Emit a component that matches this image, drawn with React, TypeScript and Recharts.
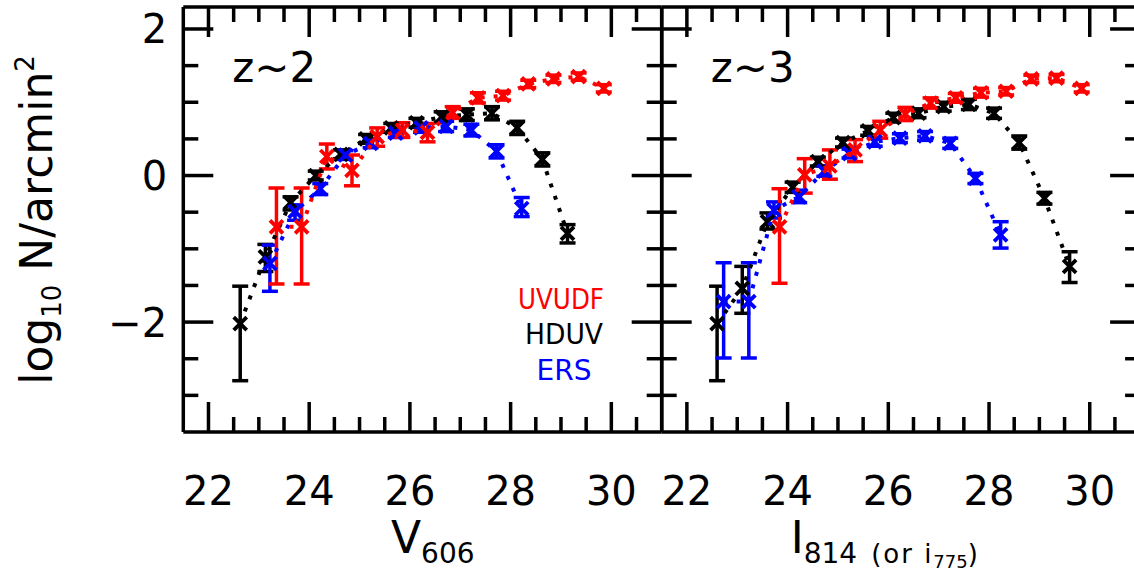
import React from 'react'
import { ComposedChart, Scatter, XAxis, YAxis, ErrorBar } from 'recharts'

// z~2 panel, V606 magnitudes
const z2HduvMag = [22.63, 23.13, 23.63, 24.13, 24.63, 25.13, 25.63, 26.13, 26.63, 27.13, 27.63, 28.13, 28.63, 29.13]
const z2HduvLogN = [-2.02, -1.11, -0.37, 0.0, 0.29, 0.5, 0.65, 0.72, 0.8, 0.83, 0.85, 0.65, 0.22, -0.79]
const z2HduvErrLo = [0.78, 0.2, 0.1, 0.06, 0.06, 0.06, 0.06, 0.06, 0.07, 0.08, 0.09, 0.09, 0.09, 0.13]
const z2HduvErrHi = [0.51, 0.17, 0.08, 0.06, 0.06, 0.06, 0.06, 0.06, 0.07, 0.08, 0.09, 0.09, 0.09, 0.12]

const z2ErsMag = [23.22, 23.72, 24.22, 24.72, 25.22, 25.72, 26.22, 26.72, 27.22, 27.72, 28.22]
const z2ErsLogN = [-1.2, -0.49, -0.18, 0.28, 0.44, 0.58, 0.65, 0.67, 0.62, 0.33, -0.45]
const z2ErsErrLo = [0.38, 0.12, 0.08, 0.06, 0.06, 0.06, 0.06, 0.07, 0.08, 0.09, 0.11]
const z2ErsErrHi = [0.25, 0.09, 0.07, 0.06, 0.06, 0.06, 0.06, 0.07, 0.08, 0.09, 0.15]

const z2UvudfMag = [23.35, 23.85, 24.35, 24.85, 25.35, 25.85, 26.35, 26.85, 27.35, 27.85, 28.35, 28.85, 29.35, 29.85]
const z2UvudfLogN = [-0.7, -0.7, 0.26, 0.07, 0.53, 0.62, 0.59, 0.86, 1.06, 1.09, 1.25, 1.32, 1.35, 1.19]
const z2UvudfErrLo = [0.78, 0.78, 0.17, 0.21, 0.13, 0.1, 0.13, 0.08, 0.07, 0.06, 0.05, 0.05, 0.05, 0.05]
const z2UvudfErrHi = [0.53, 0.53, 0.17, 0.21, 0.12, 0.1, 0.12, 0.08, 0.07, 0.06, 0.05, 0.05, 0.05, 0.05]

// z~3 panel, I814 magnitudes
const z3HduvMag = [22.6, 23.1, 23.6, 24.1, 24.6, 25.1, 25.6, 26.1, 26.6, 27.1, 27.6, 28.1, 28.6, 29.1, 29.6]
const z3HduvLogN = [-2.02, -1.54, -0.63, -0.16, 0.19, 0.45, 0.61, 0.79, 0.85, 0.94, 0.97, 0.85, 0.45, -0.31, -1.24]
const z3HduvErrLo = [0.78, 0.34, 0.1, 0.07, 0.06, 0.06, 0.06, 0.06, 0.06, 0.06, 0.07, 0.07, 0.09, 0.08, 0.22]
const z3HduvErrHi = [0.51, 0.3, 0.12, 0.07, 0.06, 0.06, 0.06, 0.06, 0.06, 0.06, 0.07, 0.07, 0.09, 0.08, 0.2]

const z3ErsMag = [22.73, 23.23, 23.73, 24.23, 24.73, 25.23, 25.73, 26.23, 26.73, 27.23, 27.73, 28.23]
const z3ErsLogN = [-1.72, -1.72, -0.47, -0.29, 0.06, 0.3, 0.46, 0.51, 0.54, 0.44, -0.04, -0.81]
const z3ErsErrLo = [0.77, 0.77, 0.11, 0.08, 0.07, 0.06, 0.06, 0.06, 0.06, 0.07, 0.07, 0.18]
const z3ErsErrHi = [0.53, 0.53, 0.11, 0.09, 0.07, 0.06, 0.06, 0.06, 0.06, 0.07, 0.07, 0.18]

const z3UvudfMag = [23.84, 24.34, 24.84, 25.34, 25.84, 26.34, 26.84, 27.34, 27.84, 28.34, 28.84, 29.34, 29.84]
const z3UvudfLogN = [-0.7, 0.01, 0.13, 0.35, 0.62, 0.84, 0.99, 1.06, 1.13, 1.15, 1.32, 1.33, 1.19]
const z3UvudfErrLo = [0.77, 0.25, 0.18, 0.16, 0.11, 0.09, 0.07, 0.06, 0.06, 0.05, 0.05, 0.05, 0.05]
const z3UvudfErrHi = [0.52, 0.22, 0.22, 0.14, 0.12, 0.09, 0.07, 0.06, 0.06, 0.05, 0.05, 0.05, 0.05]

const magTicks = [22, 22.5, 23, 23.5, 24, 24.5, 25, 25.5, 26, 26.5, 27, 27.5, 28, 28.5, 29, 29.5, 30, 30.5]
const magLabels = [22, 24, 26, 28, 30]
const logTicks = [-3, -2.5, -2, -1.5, -1, -0.5, 0, 0.5, 1, 1.5, 2]
const logLabels = [-2, 0, 2]

const RED = '#ff0000'
const BLUE = '#0000ff'
const BLACK = '#000000'
const FONT = '"DejaVu Sans", sans-serif'

const TOP = 7
const BOTTOM = 432
const PW = 478.4
const LW = 3.5

const rows = (mag: number[], logN: number[], lo: number[], hi: number[]) =>
  mag.map((m, i) => ({ mag: m, logN: logN[i], err: [lo[i], hi[i]] }))

const XMark = (p: any) => {
  const { cx, cy, color } = p
  if (cx == null || cy == null) return null
  const s = 6.5
  return (
    <path
      d={`M${cx - s},${cy - s}L${cx + s},${cy + s}M${cx - s},${cy + s}L${cx + s},${cy - s}`}
      stroke={color}
      strokeWidth={3.8}
      fill="none"
    />
  )
}

interface Series {
  name: string
  color: string
  data: { mag: number; logN: number; err: number[] }[]
}

interface PanelProps {
  left: number
  width: number
  marginLeft: number
  series: Series[]
  tag: string
  first: boolean
}

function Panel({ left, width, marginLeft, series, tag, first }: PanelProps) {
  const x0 = marginLeft
  const x1 = marginLeft + PW

  const BottomTick = ({ x, payload }: any) => {
    const v = payload.value
    const major = magLabels.includes(v)
    const len = major ? 30 : 15
    return (
      <g>
        <line x1={x} x2={x} y1={BOTTOM} y2={BOTTOM - len} stroke={BLACK} strokeWidth={LW} />
        <line x1={x} x2={x} y1={TOP} y2={TOP + len} stroke={BLACK} strokeWidth={LW} />
        {major && (
          <text x={x} y={505} textAnchor="middle" fontSize={40} fontFamily={FONT} fill={BLACK}>
            {v}
          </text>
        )}
      </g>
    )
  }

  const LeftTick = ({ y, payload }: any) => {
    const v = payload.value
    const major = logLabels.includes(v)
    const len = major ? 30 : 15
    return (
      <g>
        <line x1={x0} x2={x0 + len} y1={y} y2={y} stroke={BLACK} strokeWidth={LW} />
        <line x1={x1} x2={x1 - len} y1={y} y2={y} stroke={BLACK} strokeWidth={LW} />
        {first && major && (
          <text x={x0 - 16} y={y + 14.5} textAnchor="end" fontSize={40} fontFamily={FONT} fill={BLACK}>
            {v < 0 ? `\u2212${-v}` : v}
          </text>
        )}
      </g>
    )
  }

  return (
    <div style={{ position: 'absolute', left, top: 0 }}>
      <ComposedChart
        width={width}
        height={571}
        margin={{ top: TOP - 1, bottom: 571 - BOTTOM - 1, left: marginLeft - 1, right: width - x1 - 1 }}
      >
        <XAxis
          xAxisId="b"
          type="number"
          dataKey="mag"
          orientation="bottom"
          domain={[21.5, 31]}
          allowDataOverflow
          ticks={magTicks}
          interval={0}
          height={1}
          tickSize={0}
          tickLine={false}
          axisLine={{ stroke: BLACK, strokeWidth: LW }}
          tick={(p: any) => <BottomTick {...p} />}
        />
        <XAxis
          xAxisId="t"
          type="number"
          orientation="top"
          domain={[21.5, 31]}
          allowDataOverflow
          height={1}
          tickLine={false}
          tick={false}
          axisLine={{ stroke: BLACK, strokeWidth: LW }}
        />
        <YAxis
          yAxisId="l"
          type="number"
          dataKey="logN"
          orientation="left"
          domain={[-3.5, 2.3]}
          allowDataOverflow
          ticks={logTicks}
          interval={0}
          width={1}
          tickSize={0}
          tickLine={false}
          axisLine={{ stroke: BLACK, strokeWidth: LW }}
          tick={(p: any) => <LeftTick {...p} />}
        />
        <YAxis
          yAxisId="r"
          type="number"
          orientation="right"
          domain={[-3.5, 2.3]}
          allowDataOverflow
          width={1}
          tickLine={false}
          tick={false}
          axisLine={{ stroke: BLACK, strokeWidth: LW }}
        />
        {series.map((s) => (
          <Scatter
            key={s.name}
            name={s.name}
            xAxisId="b"
            yAxisId="l"
            data={s.data}
            dataKey="logN"
            fill={s.color}
            line={{ stroke: s.color, strokeWidth: 4, strokeDasharray: '4 9' }}
            lineType="joint"
            shape={(p: any) => <XMark {...p} color={s.color} />}
            isAnimationActive={false}
          >
            <ErrorBar
              dataKey="err"
              direction="y"
              width={8}
              stroke={s.color}
              strokeWidth={3.5}
              isAnimationActive={false}
            />
          </Scatter>
        ))}
        <text x={x0 + 49} y={82} fontSize={42} fontFamily={FONT} fill={BLACK}>
          {tag}
        </text>
        {first ? (
          <g fontFamily={FONT}>
            <text x={391} y={553} fontSize={44} fill={BLACK}>
              V<tspan fontSize={28} dy={10}>606</tspan>
            </text>
            <text transform="translate(52,220) rotate(-90)" fontSize={44} textAnchor="middle" fill={BLACK}>
              log<tspan fontSize={26} dy={9}>10</tspan>
              <tspan dy={-9}> N/arcmin</tspan>
              <tspan fontSize={26} dy={-18}>2</tspan>
            </text>
            <text x={561} y={309} fontSize={28} textAnchor="middle" fill={RED} textLength={86} lengthAdjust="spacingAndGlyphs">UVUDF</text>
            <text x={564} y={344} fontSize={28} textAnchor="middle" fill={BLACK} textLength={78} lengthAdjust="spacingAndGlyphs">HDUV</text>
            <text x={564} y={380} fontSize={28} textAnchor="middle" fill={BLUE} textLength={55} lengthAdjust="spacingAndGlyphs">ERS</text>
          </g>
        ) : (
          <text x={x0 + 129} y={553} fontSize={44} fontFamily={FONT} fill={BLACK}>
            I<tspan fontSize={28} dy={10}>814</tspan>
            <tspan fontSize={26} dx={14} letterSpacing={2}>(or i</tspan>
            <tspan fontSize={18} dy={5}>775</tspan>
            <tspan fontSize={26} dy={-5}>)</tspan>
          </text>
        )}
      </ComposedChart>
    </div>
  )
}

const z2Series: Series[] = [
  { name: 'HDUV', color: BLACK, data: rows(z2HduvMag, z2HduvLogN, z2HduvErrLo, z2HduvErrHi) },
  { name: 'ERS', color: BLUE, data: rows(z2ErsMag, z2ErsLogN, z2ErsErrLo, z2ErsErrHi) },
  { name: 'UVUDF', color: RED, data: rows(z2UvudfMag, z2UvudfLogN, z2UvudfErrLo, z2UvudfErrHi) },
]

const z3Series: Series[] = [
  { name: 'HDUV', color: BLACK, data: rows(z3HduvMag, z3HduvLogN, z3HduvErrLo, z3HduvErrHi) },
  { name: 'ERS', color: BLUE, data: rows(z3ErsMag, z3ErsLogN, z3ErsErrLo, z3ErsErrHi) },
  { name: 'UVUDF', color: RED, data: rows(z3UvudfMag, z3UvudfLogN, z3UvudfErrLo, z3UvudfErrHi) },
]

export default function App() {
  return (
    <div
      style={{
        position: 'absolute',
        left: 0,
        top: 0,
        width: 1134,
        height: 571,
        overflow: 'hidden',
        background: '#fff',
      }}
    >
      <Panel left={0} width={665} marginLeft={183.3} series={z2Series} tag="z~2" first />
      <Panel left={640} width={520} marginLeft={21.7} series={z3Series} tag="z~3" first={false} />
    </div>
  )
}
